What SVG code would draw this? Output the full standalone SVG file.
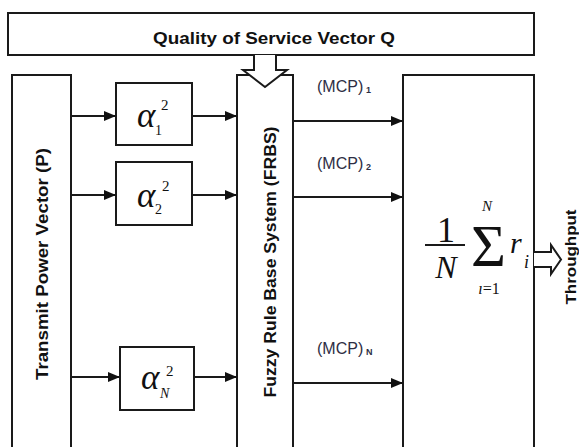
<svg xmlns="http://www.w3.org/2000/svg" width="579" height="447" viewBox="0 0 579 447">
<style>
.box{fill:#fff;stroke:#1a1a1a;stroke-width:2}
.ln{stroke:#1a1a1a;stroke-width:2;fill:none}
.hollow{fill:#fff;stroke:#1a1a1a;stroke-width:2;stroke-linejoin:miter}
.lbl{font-family:"Liberation Sans",Arial,sans-serif;font-weight:bold;fill:#111}
.mcp{font-family:"Liberation Sans",Arial,sans-serif;font-size:16px;fill:#2e2e44}
.mcps{font-family:"Liberation Sans",Arial,sans-serif;font-size:9px;font-weight:bold;fill:#2e2e44}
.m{font-family:"Liberation Serif","Times New Roman",serif;fill:#111}
.mi{font-family:"Liberation Serif","Times New Roman",serif;font-style:italic;fill:#111}
</style>
<defs>
<marker id="ah" viewBox="0 0 12 10" refX="12" refY="5" markerWidth="12" markerHeight="10" markerUnits="userSpaceOnUse" orient="auto">
<path d="M0,0 L12,5 L0,10 Z" fill="#111"/>
</marker>
</defs>
<rect width="579" height="447" fill="#fff"/>

<g id="qos">
<rect class="box" x="8" y="13" width="526" height="42"/>
<text class="lbl" x="274" y="44" font-size="17" text-anchor="middle" textLength="242" lengthAdjust="spacingAndGlyphs">Quality of Service Vector Q</text>
</g>

<g id="transmit">
<rect class="box" x="12" y="75" width="59" height="390"/>
<text class="lbl" font-size="17" text-anchor="middle" transform="translate(48,264) rotate(-90)" textLength="232" lengthAdjust="spacingAndGlyphs">Transmit Power Vector (P)</text>
</g>

<g id="alpha1">
<rect class="box" x="116" y="83" width="76" height="62"/>
<text class="mi" x="137" y="127" font-size="35">α</text>
<text class="m" x="161" y="110" font-size="15">2</text>
<text class="m" x="155" y="135" font-size="14">1</text>
</g>

<g id="alpha2">
<rect class="box" x="116" y="162" width="76" height="63"/>
<text class="mi" x="137" y="207" font-size="35">α</text>
<text class="m" x="162" y="191" font-size="15">2</text>
<text class="m" x="155" y="214" font-size="14">2</text>
</g>

<g id="alphaN">
<rect class="box" x="120" y="347" width="74" height="63"/>
<text class="mi" x="141" y="389" font-size="35">α</text>
<text class="m" x="166" y="376" font-size="15">2</text>
<text class="mi" x="160" y="398" font-size="14">N</text>
</g>

<g id="frbs">
<rect class="box" x="237" y="75" width="56" height="390"/>
<text class="lbl" font-size="17" text-anchor="middle" transform="translate(276,262) rotate(-90)" textLength="271" lengthAdjust="spacingAndGlyphs">Fuzzy Rule Base System (FRBS)</text>
</g>

<g id="sum">
<rect class="box" x="403" y="75" width="131" height="390"/>
<text class="m" x="446" y="242" font-size="36" text-anchor="middle">1</text>
<line class="ln" x1="425" y1="245" x2="465" y2="245" stroke-width="1.6"/>
<text class="mi" x="446" y="278" font-size="32" text-anchor="middle">N</text>
<text class="m" x="471" y="266" font-size="60">Σ</text>
<text class="mi" x="482" y="211" font-size="15">N</text>
<text class="m" x="489" y="294" font-size="16" text-anchor="middle"><tspan font-style="italic">ı</tspan>=1</text>
<text class="mi" x="510" y="253" font-size="30">r</text>
<text class="mi" x="524" y="268" font-size="18">i</text>
</g>

<g id="throughput">
<text class="lbl" font-size="15" text-anchor="middle" transform="translate(576,257) rotate(-90)" textLength="95" lengthAdjust="spacingAndGlyphs">Throughput</text>
</g>

<g id="connectors">
<line class="ln" x1="71" y1="116" x2="116" y2="116" marker-end="url(#ah)"/>
<line class="ln" x1="192" y1="116" x2="237" y2="116" marker-end="url(#ah)"/>
<line class="ln" x1="71" y1="195" x2="116" y2="195" marker-end="url(#ah)"/>
<line class="ln" x1="192" y1="195" x2="237" y2="195" marker-end="url(#ah)"/>
<line class="ln" x1="71" y1="377" x2="120" y2="377" marker-end="url(#ah)"/>
<line class="ln" x1="194" y1="377" x2="237" y2="377" marker-end="url(#ah)"/>
<line class="ln" x1="293" y1="121" x2="403" y2="121" marker-end="url(#ah)"/>
<line class="ln" x1="293" y1="197" x2="403" y2="197" marker-end="url(#ah)"/>
<line class="ln" x1="293" y1="383" x2="403" y2="383" marker-end="url(#ah)"/>
<path class="hollow" d="M254,55 V70 H243 L265,87 L287,70 H276 V55"/>
<path class="hollow" d="M534,252 H551 V245 L561,259.5 L551,274 V267 H534"/>
<text class="mcp" x="317" y="92">(MCP)</text><text class="mcps" x="366" y="93">1</text>
<text class="mcp" x="317" y="169">(MCP)</text><text class="mcps" x="366" y="170">2</text>
<text class="mcp" x="317" y="354">(MCP)</text><text class="mcps" x="366" y="355">N</text>
</g>
</svg>
